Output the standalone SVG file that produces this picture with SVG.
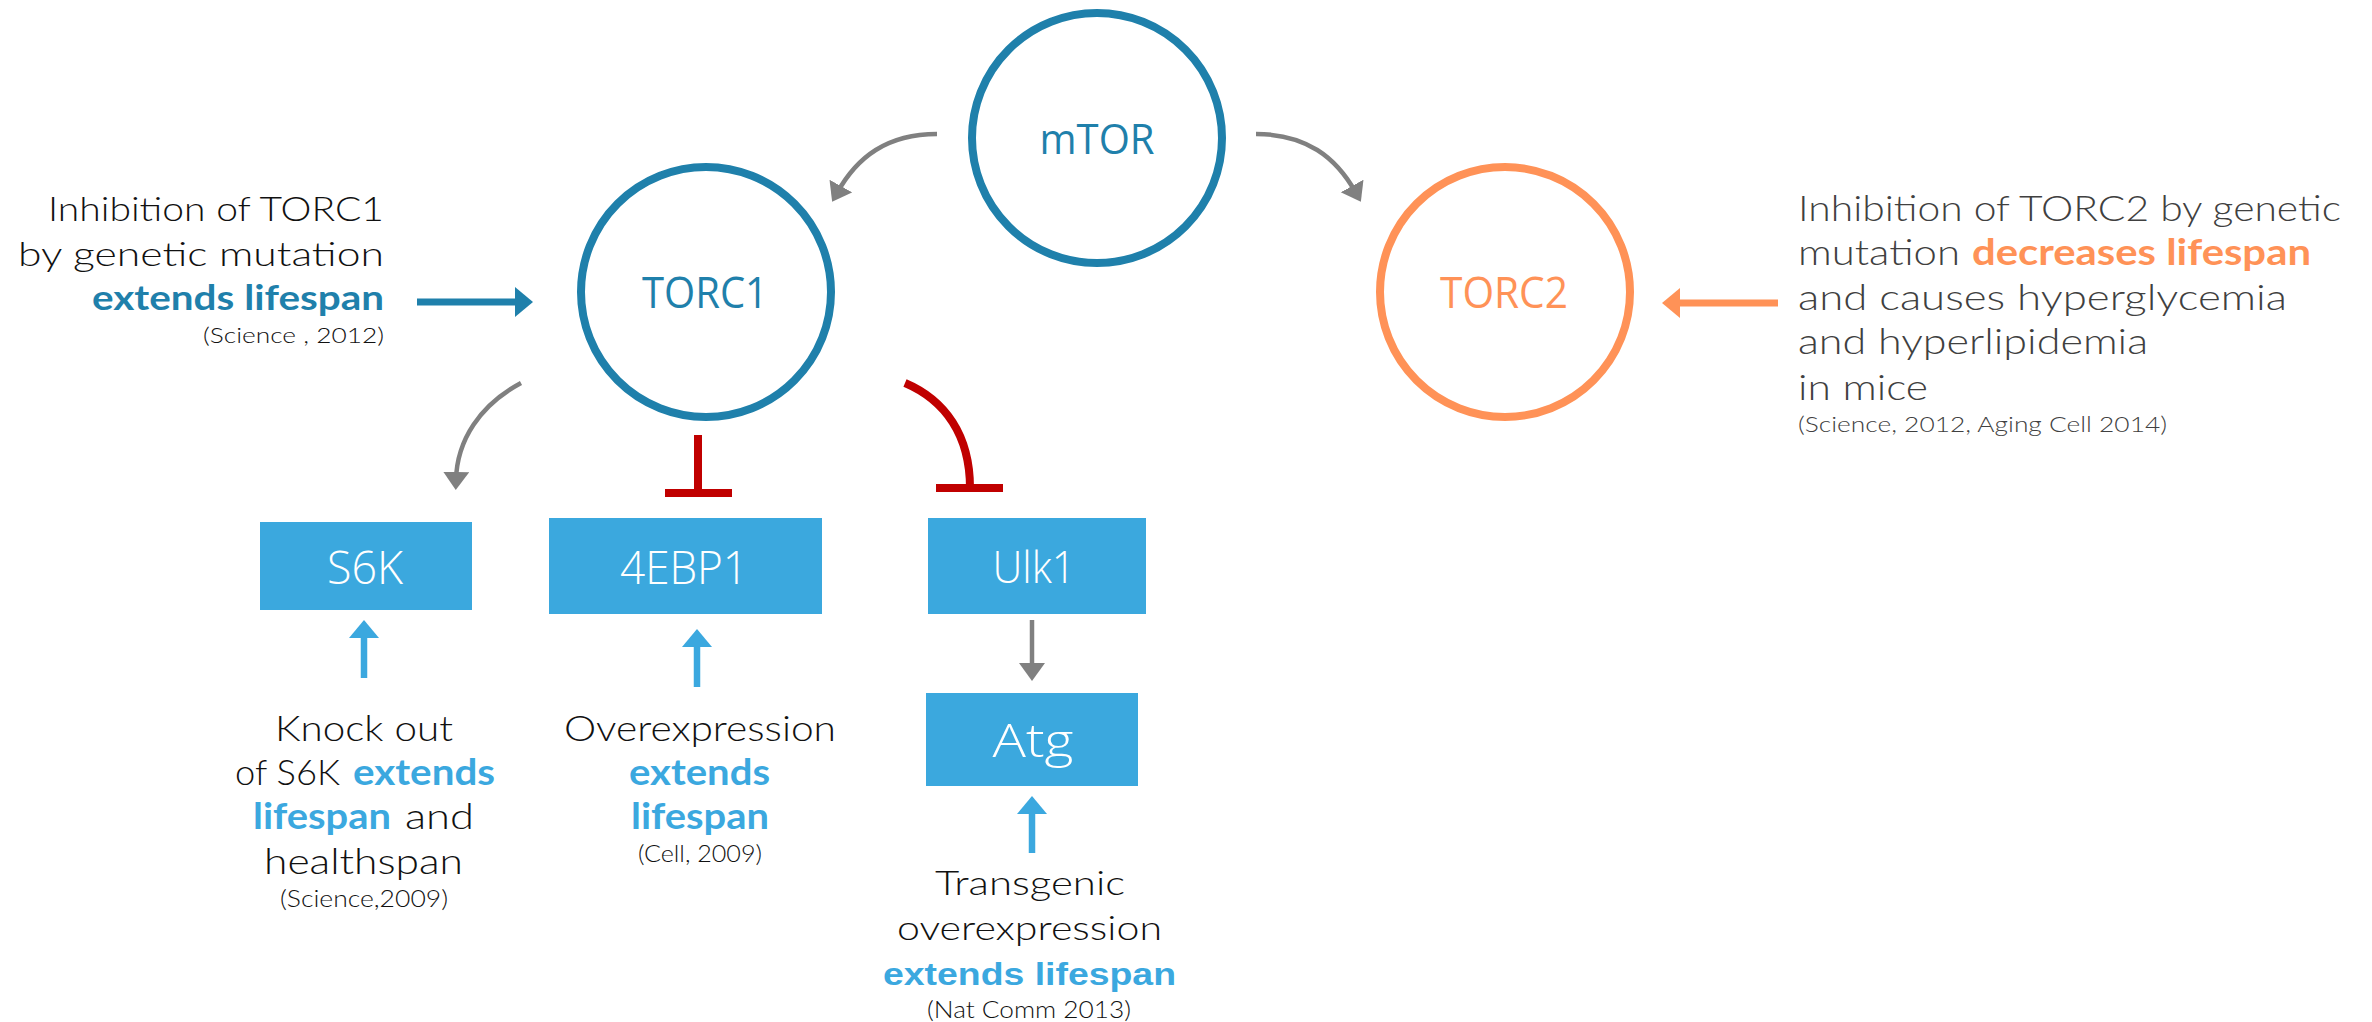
<svg xmlns="http://www.w3.org/2000/svg" width="2372" height="1022" viewBox="0 0 2372 1022">
<style>
.t{font-family:Lato,"Open Sans","Liberation Sans",sans-serif;font-weight:300;fill:#111}
.geo{font-family:"Liberation Sans",Arial,sans-serif;font-weight:400}
.r{fill:#404040}
.b{font-weight:700}
.dk{fill:#1f80ab}
.lb{fill:#3ba8df}
.or{fill:#ff9257}
.node{font-family:"Open Sans","Liberation Sans",sans-serif}
.circ{fill:#fff;stroke-width:8}
.box{fill:#3ba8de}
.wt{fill:#fff;font-family:"Open Sans","Liberation Sans",sans-serif;font-weight:300}
.gray{fill:none;stroke:#808080;stroke-width:4.5}
.inh{fill:none;stroke:#c00000;stroke-width:8}
</style>
<defs>
<marker id="hGray" markerUnits="userSpaceOnUse" markerWidth="20" markerHeight="28" refX="8" refY="13" orient="auto"><path d="M0,0 L18,13 L0,26 z" fill="#808080"/></marker>
<marker id="hDark" markerUnits="userSpaceOnUse" markerWidth="20" markerHeight="32" refX="8" refY="15" orient="auto"><path d="M0,0 L18,15 L0,30 z" fill="#1f80ab"/></marker>
<marker id="hOr" markerUnits="userSpaceOnUse" markerWidth="20" markerHeight="32" refX="8" refY="15" orient="auto"><path d="M0,0 L18,15 L0,30 z" fill="#ff9257"/></marker>
<marker id="hLb" markerUnits="userSpaceOnUse" markerWidth="20" markerHeight="32" refX="8" refY="15" orient="auto"><path d="M0,0 L18,15 L0,30 z" fill="#3ba8df"/></marker>
</defs>
<rect width="2372" height="1022" fill="#fff"/>

<g id="connectors">
<path class="gray" d="M937,134 C887,134 857,157 837,193" marker-end="url(#hGray)"/>
<path class="gray" d="M1256,134 C1306,134 1336,157 1356,193" marker-end="url(#hGray)"/>
<path class="gray" d="M521,383 C480,405 457,440 456,480" marker-end="url(#hGray)"/>
<line class="gray" x1="1032" y1="620" x2="1032" y2="671" marker-end="url(#hGray)"/>
<line x1="417" y1="302" x2="523" y2="302" stroke="#1f80ab" stroke-width="7" marker-end="url(#hDark)"/>
<line x1="1778" y1="303" x2="1672" y2="303" stroke="#ff9257" stroke-width="7" marker-end="url(#hOr)"/>
<line x1="364" y1="678" x2="364" y2="630" stroke="#3ba8df" stroke-width="6.5" marker-end="url(#hLb)"/>
<line x1="697" y1="687" x2="697" y2="639" stroke="#3ba8df" stroke-width="6.5" marker-end="url(#hLb)"/>
<line x1="1032" y1="853" x2="1032" y2="806" stroke="#3ba8df" stroke-width="6.5" marker-end="url(#hLb)"/>
<path class="inh" d="M698,435 V493 M665,493 H732"/>
<path class="inh" d="M905,383 C945,400 970,435 970,488 M936,488 H1003" stroke-width="7.5"/>
</g>

<g id="mTOR">
<circle class="circ" cx="1097" cy="138" r="125" stroke="#1f80ab"/>
<text class="node dk" x="1097" y="154" font-size="42" text-anchor="middle" textLength="115" lengthAdjust="spacingAndGlyphs">mTOR</text>
</g>
<g id="TORC1">
<circle class="circ" cx="706" cy="292" r="125" stroke="#1f80ab"/>
<text class="node dk" x="705" y="308" font-size="44" text-anchor="middle" textLength="126" lengthAdjust="spacingAndGlyphs">TORC1</text>
</g>
<g id="TORC2">
<circle class="circ" cx="1505" cy="292" r="125" stroke="#ff9257"/>
<text class="node or" x="1504" y="308" font-size="44" text-anchor="middle" textLength="128" lengthAdjust="spacingAndGlyphs">TORC2</text>
</g>

<g id="S6K">
<rect class="box" x="260" y="522" width="212" height="88"/>
<text class="wt" x="365" y="584" font-size="46" text-anchor="middle" textLength="76" lengthAdjust="spacingAndGlyphs">S6K</text>
</g>
<g id="4EBP1">
<rect class="box" x="549" y="518" width="273" height="96"/>
<text class="wt" x="684" y="584" font-size="46" text-anchor="middle" textLength="128" lengthAdjust="spacingAndGlyphs">4EBP1</text>
</g>
<g id="Ulk1">
<rect class="box" x="928" y="518" width="218" height="96"/>
<text class="wt geo" x="1034" y="583" font-size="45" text-anchor="middle" textLength="83" lengthAdjust="spacingAndGlyphs" style="fill:#fff">Ulk1</text>
</g>
<g id="Atg">
<rect class="box" x="926" y="693" width="212" height="93"/>
<text class="wt geo" x="1033" y="757" font-size="46" text-anchor="middle" textLength="81" lengthAdjust="spacingAndGlyphs" style="fill:#fff">Atg</text>
</g>

<g id="note-TORC1">
<text class="t" x="384" y="221" font-size="34" text-anchor="end" textLength="336" lengthAdjust="spacingAndGlyphs">Inhibition of TORC1</text>
<text class="t" x="384" y="266" font-size="34" text-anchor="end" textLength="366" lengthAdjust="spacingAndGlyphs">by genetic mutation</text>
<text class="t b dk" x="384" y="310" font-size="34" text-anchor="end" textLength="292" lengthAdjust="spacingAndGlyphs">extends lifespan</text>
<text class="t" x="384" y="343" font-size="21" text-anchor="end" textLength="181" lengthAdjust="spacingAndGlyphs">(Science , 2012)</text>
</g>

<g id="note-TORC2">
<text class="t r" x="1798" y="221" font-size="36" textLength="543" lengthAdjust="spacingAndGlyphs">Inhibition of TORC2 by genetic</text>
<text class="t r" x="1798" y="265" font-size="36" textLength="162" lengthAdjust="spacingAndGlyphs">mutation</text>
<text class="t b or" x="1972" y="265" font-size="36" textLength="339" lengthAdjust="spacingAndGlyphs">decreases lifespan</text>
<text class="t r" x="1798" y="310" font-size="36" textLength="489" lengthAdjust="spacingAndGlyphs">and causes hyperglycemia</text>
<text class="t r" x="1798" y="354" font-size="36" textLength="350" lengthAdjust="spacingAndGlyphs">and hyperlipidemia</text>
<text class="t r" x="1798" y="400" font-size="36" textLength="130" lengthAdjust="spacingAndGlyphs">in mice</text>
<text class="t r" x="1798" y="432" font-size="22" textLength="369" lengthAdjust="spacingAndGlyphs">(Science, 2012, Aging Cell 2014)</text>
</g>

<g id="note-S6K">
<text class="t" x="275" y="741" font-size="36" textLength="178" lengthAdjust="spacingAndGlyphs">Knock out</text>
<text class="t" x="235" y="785" font-size="36" textLength="105" lengthAdjust="spacingAndGlyphs">of S6K</text>
<text class="t b lb" x="353" y="785" font-size="36" textLength="142" lengthAdjust="spacingAndGlyphs">extends</text>
<text class="t b lb" x="253" y="829" font-size="36" textLength="138" lengthAdjust="spacingAndGlyphs">lifespan</text>
<text class="t" x="405" y="829" font-size="36" textLength="69" lengthAdjust="spacingAndGlyphs">and</text>
<text class="t" x="264" y="874" font-size="36" textLength="199" lengthAdjust="spacingAndGlyphs">healthspan</text>
<text class="t" x="280" y="907" font-size="23" textLength="168" lengthAdjust="spacingAndGlyphs">(Science,2009)</text>
</g>

<g id="note-4EBP1">
<text class="t" x="564" y="741" font-size="36" textLength="272" lengthAdjust="spacingAndGlyphs">Overexpression</text>
<text class="t b lb" x="629" y="785" font-size="36" textLength="141" lengthAdjust="spacingAndGlyphs">extends</text>
<text class="t b lb" x="631" y="829" font-size="36" textLength="138" lengthAdjust="spacingAndGlyphs">lifespan</text>
<text class="t" x="638" y="862" font-size="23" textLength="124" lengthAdjust="spacingAndGlyphs">(Cell, 2009)</text>
</g>

<g id="note-Atg">
<text class="t" x="935" y="895" font-size="34" textLength="190" lengthAdjust="spacingAndGlyphs">Transgenic</text>
<text class="t" x="897" y="940" font-size="34" textLength="265" lengthAdjust="spacingAndGlyphs">overexpression</text>
<text class="t geo b lb" x="883" y="985" font-size="32" textLength="293" lengthAdjust="spacingAndGlyphs">extends lifespan</text>
<text class="t" x="927" y="1018" font-size="23" textLength="204" lengthAdjust="spacingAndGlyphs">(Nat Comm 2013)</text>
</g>
</svg>
